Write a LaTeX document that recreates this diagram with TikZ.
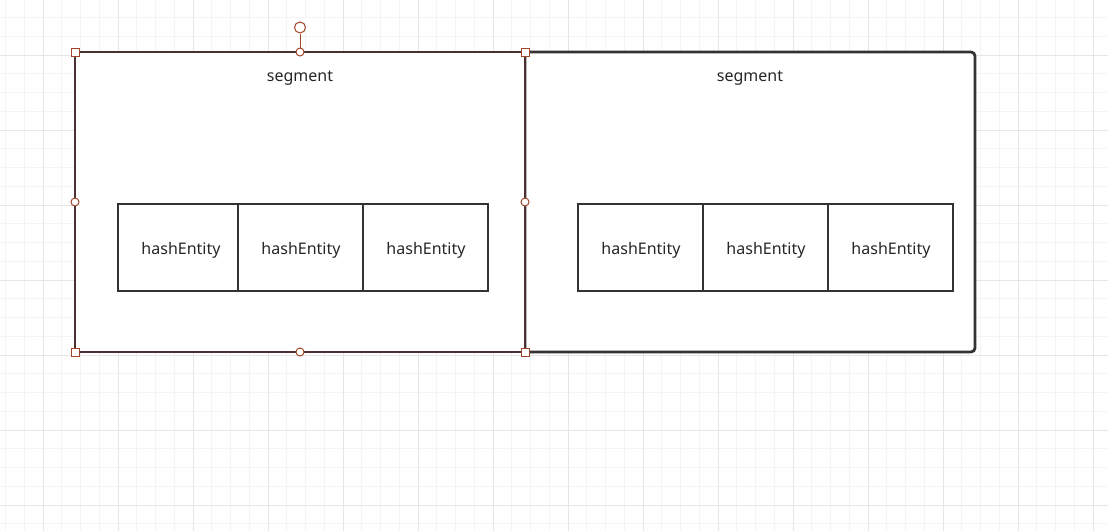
\documentclass[tikz,border=0pt]{standalone}
\usepackage{fontspec}
\setmainfont{Noto Sans}
\definecolor{gridminor}{HTML}{F4F4F4}
\definecolor{gridmajor}{HTML}{E6E6E6}
\definecolor{boxline}{HTML}{333333}
\definecolor{selline}{HTML}{4A3030}
\definecolor{handle}{HTML}{A0442A}
\begin{document}
\begin{tikzpicture}[x=1pt,y=-1pt,
  lbl/.style={font=\fontsize{16}{18}\selectfont, text=black!85, inner sep=0pt},
  cell/.style={draw=boxline, line width=2.8pt, fill=white, minimum height=87pt, inner sep=0pt},
  seg/.style={draw=boxline, line width=2.8pt, fill=white},
  sqh/.style={draw=handle, line width=1pt, fill=white, minimum size=8pt, inner sep=0pt, rectangle},
  cih/.style={draw=handle, line width=1pt, fill=white, minimum size=8pt, inner sep=0pt, circle}]
\useasboundingbox (0,0) rectangle (1108,531);
\fill[white] (0,0) rectangle (1108,531);
% grid
\foreach \i in {0,...,60} {
  \pgfmathsetmacro{\xx}{-13.25+18.75*\i}
  \draw[gridminor, line width=1pt] (\xx,0) -- (\xx,531);
  \pgfmathsetmacro{\yy}{-1.25+18.75*\i}
  \draw[gridminor, line width=1pt] (0,\yy) -- (1108,\yy);
}
\foreach \i in {0,...,15} {
  \pgfmathsetmacro{\xx}{-32+75*\i}
  \draw[gridmajor, line width=1pt] (\xx,0) -- (\xx,531);
  \pgfmathsetmacro{\yy}{-20+75*\i}
  \draw[gridmajor, line width=1pt] (0,\yy) -- (1108,\yy);
}
% right segment
\draw[seg, rounded corners=4pt] (525,52) rectangle (975,352);
\node[lbl] (segR) at (750,78) {segment};
% left segment (selected)
\draw[seg, draw=selline] (75,52) rectangle (525,352);
\node[lbl] (segL) at (300,78) {segment};
% left cells
\node[cell, minimum width=120pt] (l1) at (178,247.5) {};
\node[cell, minimum width=125pt] (l2) at (300.5,247.5) {};
\node[cell, minimum width=125pt] (l3) at (425.5,247.5) {};
\node[lbl] at (181,250) {hashEntity};
\node[lbl] at (301,250) {hashEntity};
\node[lbl] at (426,250) {hashEntity};
% right cells
\node[cell, minimum width=125pt] (r1) at (640.5,247.5) {};
\node[cell, minimum width=125pt] (r2) at (765.5,247.5) {};
\node[cell, minimum width=125pt] (r3) at (890.5,247.5) {};
\node[lbl] at (641,250) {hashEntity};
\node[lbl] at (766,250) {hashEntity};
\node[lbl] at (891,250) {hashEntity};
% selection handles
\node[cih, minimum size=11pt] (rot) at (300,27.5) {};
\node[cih] (tm) at (300,52) {};
\draw[handle, line width=1pt] (rot) -- (tm);
\node[cih] (bm) at (300,352) {};
\node[cih] (lm) at (75,202) {};
\node[cih] (rm) at (525,202) {};
\node[sqh] (tl) at (75,52) {};
\node[sqh] (tr) at (525,52) {};
\node[sqh] (bl) at (75,352) {};
\node[sqh] (br) at (525,352) {};
\end{tikzpicture}
\end{document}
